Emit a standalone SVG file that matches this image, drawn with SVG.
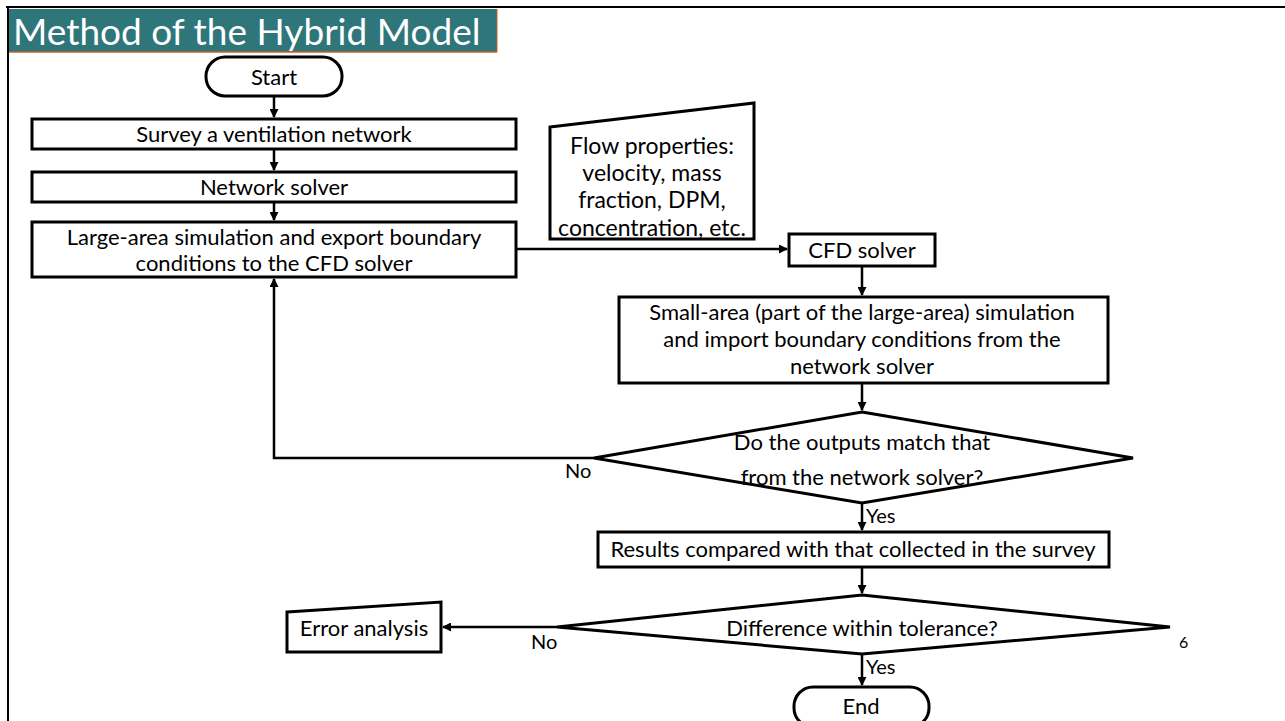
<svg xmlns="http://www.w3.org/2000/svg" width="1285" height="721" viewBox="0 0 1285 721">
<defs>
<marker id="ah" markerWidth="9" markerHeight="9" refX="8" refY="4.5" orient="auto" markerUnits="userSpaceOnUse">
<path d="M0,0 L9,4.5 L0,9 Z" fill="#000"/>
</marker>
<style>
.box{fill:#fff;stroke:#000;stroke-width:3}
.t{font-family:Lato,"Open Sans","Liberation Sans",sans-serif;font-size:22px;fill:#000;text-anchor:middle}
.t23{font-family:Lato,"Open Sans","Liberation Sans",sans-serif;font-size:23px;fill:#000;text-anchor:middle}
.lbl{font-family:Lato,"Open Sans","Liberation Sans",sans-serif;font-size:20px;fill:#000}
.c{fill:none;stroke:#000;stroke-width:2.5}
</style>
</defs>
<rect width="1285" height="721" fill="#fff"/>
<g id="frame">
<line x1="6" y1="7" x2="1285" y2="7" stroke="#000" stroke-width="2"/>
<line x1="8" y1="7" x2="8" y2="721" stroke="#000" stroke-width="2"/>
<rect x="9" y="9" width="488" height="43" fill="#2E7679"/>
<line x1="9" y1="52" x2="497" y2="52" stroke="#C8622A" stroke-width="1.5"/>
<line x1="497" y1="9" x2="497" y2="52" stroke="#C8622A" stroke-width="1"/>
<text x="13" y="45" font-family="Lato,'Open Sans','Liberation Sans',sans-serif" font-size="37" fill="#fff">Method of the Hybrid Model</text>
</g>
<g id="connectors">
<line class="c" x1="274" y1="96" x2="274" y2="117" marker-end="url(#ah)"/>
<line class="c" x1="274" y1="149" x2="274" y2="170" marker-end="url(#ah)"/>
<line class="c" x1="274" y1="202" x2="274" y2="220" marker-end="url(#ah)"/>
<line class="c" x1="516" y1="249" x2="787" y2="249" marker-end="url(#ah)"/>
<line class="c" x1="862" y1="266" x2="862" y2="295" marker-end="url(#ah)"/>
<line class="c" x1="862" y1="383" x2="862" y2="410" marker-end="url(#ah)"/>
<polyline class="c" points="594,458 274,458 274,279" marker-end="url(#ah)"/>
<line class="c" x1="862" y1="503" x2="862" y2="530" marker-end="url(#ah)"/>
<line class="c" x1="862" y1="567" x2="862" y2="593" marker-end="url(#ah)"/>
<line class="c" x1="557" y1="627" x2="443" y2="627" marker-end="url(#ah)"/>
<line class="c" x1="862" y1="654" x2="862" y2="685" marker-end="url(#ah)"/>
<text class="lbl" x="565" y="478">No</text>
<text class="lbl" x="866" y="523">Yes</text>
<text class="lbl" x="531" y="649">No</text>
<text class="lbl" x="866" y="674">Yes</text>
</g>
<g id="start">
<rect class="box" x="206" y="57" width="136" height="39" rx="19"/>
<text class="t" x="274" y="85">Start</text>
</g>
<g id="survey">
<rect class="box" x="32" y="119" width="484" height="30"/>
<text class="t" x="274" y="142">Survey a ventilation network</text>
</g>
<g id="network-solver">
<rect class="box" x="32" y="172" width="484" height="30"/>
<text class="t" x="274" y="195">Network solver</text>
</g>
<g id="large-area">
<rect class="box" x="32" y="222" width="484" height="55"/>
<text class="t" x="274" y="245">Large-area simulation and export boundary</text>
<text class="t" x="274" y="271">conditions to the CFD solver</text>
</g>
<g id="flow-properties">
<polygon class="box" points="550,127 754,103 754,239 550,239"/>
<text class="t23" x="652" y="154">Flow properties:</text>
<text class="t23" x="652" y="181">velocity, mass</text>
<text class="t23" x="652" y="208">fraction, DPM,</text>
<text class="t23" x="652" y="236">concentration, etc.</text>
</g>
<g id="cfd-solver">
<rect class="box" x="789" y="234" width="146" height="32"/>
<text class="t" x="862" y="258">CFD solver</text>
</g>
<g id="small-area">
<rect class="box" x="619" y="297" width="489" height="86"/>
<text class="t" x="862" y="320">Small-area (part of the large-area) simulation</text>
<text class="t" x="862" y="347">and import boundary conditions from the</text>
<text class="t" x="862" y="374">network solver</text>
</g>
<g id="decision-match">
<polygon class="box" points="862,412 1133,458 862,503 594,458"/>
<text class="t" x="862" y="450">Do the outputs match that</text>
<text class="t" x="862" y="485">from the network solver?</text>
</g>
<g id="results">
<rect class="box" x="598" y="532" width="511" height="35"/>
<text class="t" x="853" y="557">Results compared with that collected in the survey</text>
</g>
<g id="decision-tolerance">
<polygon class="box" points="862,595 1170,627 862,654 557,627"/>
<text class="t" x="862" y="636">Difference within tolerance?</text>
</g>
<g id="error-analysis">
<polygon class="box" points="287,612 441,602 441,652 287,652"/>
<text class="t" x="364" y="636">Error analysis</text>
</g>
<g id="end">
<rect class="box" x="794" y="687" width="135" height="40" rx="19"/>
<text class="t" x="861" y="714">End</text>
</g>
<text x="1179" y="648" font-family="Lato,'Open Sans','Liberation Sans',sans-serif" font-size="16" fill="#000">6</text>
</svg>
